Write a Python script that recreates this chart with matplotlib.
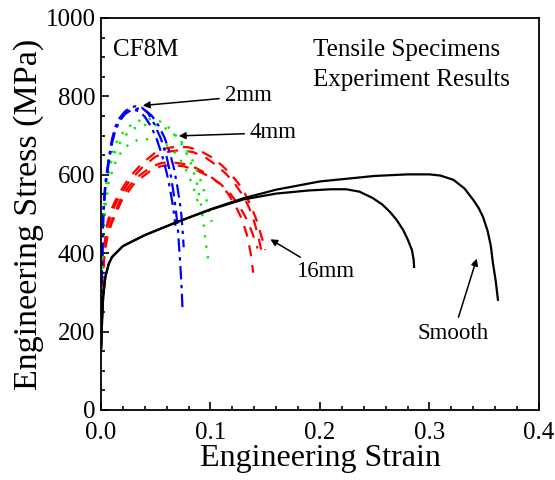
import numpy as np
import matplotlib.pyplot as plt
from matplotlib.ticker import MultipleLocator

plt.rcParams['font.family'] = ['Liberation Serif', 'DejaVu Serif']

# smooth specimens (black solid)
smooth_long_x = [0.0, 0.001, 0.002, 0.004, 0.007, 0.01, 0.02, 0.04, 0.07, 0.10, 0.13, 0.16, 0.20, 0.25, 0.28, 0.30, 0.31,
                 0.322, 0.332, 0.340, 0.345, 0.349, 0.353, 0.356, 0.358, 0.3605, 0.3626]
smooth_long_y = [150, 230, 290, 340, 372, 390, 418, 446, 480, 512, 540, 562, 583, 597, 601, 601, 598,
                 587, 565, 536, 515, 492, 458, 420, 375, 330, 281]
smooth_short_x = [0.0, 0.001, 0.002, 0.004, 0.007, 0.01, 0.02, 0.04, 0.07, 0.10, 0.13, 0.16, 0.19, 0.21, 0.224, 0.236,
                  0.248, 0.257, 0.264, 0.270, 0.276, 0.280, 0.284, 0.2855, 0.286]
smooth_short_y = [150, 230, 290, 340, 372, 390, 418, 446, 480, 511, 537, 552, 560, 563, 563, 557,
                  541, 524, 505, 485, 459, 436, 408, 385, 365]

# 16mm notched (red dashed)
r1_x = [0.0, 0.001, 0.003, 0.006, 0.01, 0.015, 0.025, 0.037, 0.049, 0.060, 0.070, 0.080, 0.090, 0.101, 0.110, 0.118,
        0.125, 0.131, 0.137, 0.142, 0.146, 0.149, 0.150]
r1_y = [160, 300, 420, 480, 515, 545, 590, 628, 655, 668, 672, 670, 662, 645, 625, 603,
        580, 555, 520, 485, 448, 420, 408]
r2_x = [0.0, 0.001, 0.003, 0.006, 0.01, 0.015, 0.025, 0.037, 0.049, 0.060, 0.072, 0.084, 0.095, 0.105, 0.114, 0.122,
        0.129, 0.135, 0.140, 0.144, 0.147]
r2_y = [160, 300, 415, 470, 505, 535, 580, 617, 645, 658, 663, 658, 645, 625, 603, 578,
        550, 518, 480, 440, 398]
r3_x = [0.0, 0.001, 0.003, 0.006, 0.01, 0.019, 0.031, 0.046, 0.055, 0.064, 0.075, 0.087, 0.098, 0.108, 0.116, 0.123,
        0.129, 0.134, 0.137, 0.139]
r3_y = [160, 290, 400, 450, 485, 545, 590, 620, 630, 632, 628, 617, 600, 578, 552, 520,
        485, 440, 395, 350]
r4_x = [0.0, 0.001, 0.003, 0.006, 0.01, 0.019, 0.031, 0.046, 0.055, 0.064, 0.075, 0.087, 0.098, 0.109, 0.118, 0.126,
        0.132, 0.137, 0.141, 0.143]
r4_y = [160, 285, 395, 445, 478, 535, 580, 612, 622, 625, 622, 612, 597, 577, 552, 522,
        492, 460, 430, 412]

# 4mm notched (green dotted)
g1_x = [0.0, 0.001, 0.002, 0.004, 0.007, 0.010, 0.015, 0.022, 0.030, 0.038, 0.046, 0.054, 0.062, 0.070, 0.076, 0.082,
        0.087, 0.091, 0.094, 0.096, 0.098]
g1_y = [170, 330, 470, 560, 620, 655, 688, 715, 733, 741, 742, 736, 720, 695, 668, 630,
        585, 530, 470, 420, 383]
g2_x = [0.0, 0.001, 0.002, 0.004, 0.007, 0.010, 0.015, 0.022, 0.030, 0.040, 0.050, 0.058, 0.066, 0.074, 0.081, 0.087,
        0.092, 0.096, 0.099, 0.101]
g2_y = [170, 320, 455, 545, 605, 640, 672, 700, 718, 727, 727, 720, 705, 682, 652, 615,
        578, 540, 505, 480]
g3_x = [0.0, 0.001, 0.002, 0.004, 0.007, 0.012, 0.018, 0.025, 0.033, 0.040, 0.048, 0.056, 0.063, 0.070, 0.076, 0.081,
        0.085, 0.088, 0.090]
g3_y = [170, 310, 430, 520, 580, 625, 656, 677, 688, 691, 690, 683, 670, 650, 622, 592,
        562, 535, 515]

# 2mm notched (blue dash-dot)
b1_x = [0.0, 0.001, 0.002, 0.004, 0.007, 0.010, 0.013, 0.017, 0.022, 0.027, 0.032, 0.037, 0.043, 0.049, 0.055, 0.060,
        0.064, 0.067, 0.070, 0.072, 0.0735, 0.0745]
b1_y = [180, 380, 500, 580, 640, 690, 722, 745, 762, 772, 775, 772, 757, 728, 690, 645,
        595, 540, 470, 390, 320, 255]
b2_x = [0.0, 0.001, 0.002, 0.004, 0.007, 0.010, 0.013, 0.017, 0.022, 0.028, 0.034, 0.040, 0.046, 0.052, 0.058, 0.063,
        0.067, 0.070, 0.073, 0.0745, 0.0755]
b2_y = [180, 370, 490, 570, 630, 680, 712, 737, 755, 766, 769, 765, 752, 728, 695, 655,
        612, 565, 510, 460, 415]
b3_x = [0.0, 0.001, 0.002, 0.004, 0.007, 0.010, 0.013, 0.017, 0.022, 0.026, 0.030, 0.035, 0.040, 0.046, 0.051, 0.056,
        0.060, 0.063, 0.066, 0.068]
b3_y = [180, 375, 495, 575, 635, 685, 717, 742, 758, 764, 766, 762, 748, 722, 690, 648,
        605, 565, 515, 470]

fig = plt.figure(figsize=(5.55, 4.8), dpi=100)
ax = fig.add_axes([0.182, 0.146, 0.789, 0.8165])

for xs, ys in [(r1_x, r1_y), (r2_x, r2_y), (r3_x, r3_y), (r4_x, r4_y)]:
    ax.plot(xs, ys, color='red', ls=(0, (5, 4)), lw=1.6)
for xs, ys in [(g1_x, g1_y), (g2_x, g2_y), (g3_x, g3_y)]:
    ax.plot(xs, ys, color='#00ee00', ls=(0, (1, 3.5)), lw=1.7)
for xs, ys in [(b1_x, b1_y), (b2_x, b2_y), (b3_x, b3_y)]:
    ax.plot(xs, ys, color='blue', ls=(0, (6, 2.5, 1.5, 2.5)), lw=1.6)
ax.plot(smooth_long_x, smooth_long_y, color='black', lw=1.6)
ax.plot(smooth_short_x, smooth_short_y, color='black', lw=1.6)

ax.set_xlim(0, 0.4)
ax.set_ylim(0, 1000)
ax.xaxis.set_major_locator(MultipleLocator(0.1))
ax.xaxis.set_minor_locator(MultipleLocator(0.02))
ax.yaxis.set_major_locator(MultipleLocator(200))
ax.yaxis.set_minor_locator(MultipleLocator(50))
ax.xaxis.set_major_formatter(plt.FormatStrFormatter('%.1f'))
ax.tick_params(which='both', direction='in', labelsize=18, width=1.2)
ax.tick_params(which='major', length=6)
ax.tick_params(which='minor', length=3)
ax.tick_params(axis='x', pad=8.5)
ax.tick_params(axis='y', pad=4)
for s in ax.spines.values():
    s.set_linewidth(1.3)

ax.set_xlabel('Engineering Strain', fontsize=23, labelpad=0)
ax.set_ylabel('Engineering Stress (MPa)', fontsize=24.5, labelpad=1)

ax.text(0.011, 918, 'CF8M', fontsize=18, va='center')
ax.text(0.194, 918, 'Tensile Specimens', fontsize=18, ha='left', va='center')
ax.text(0.194, 842, 'Experiment Results', fontsize=18, ha='left', va='center')

arrow = dict(arrowstyle='-|>', color='black', lw=1.1, mutation_scale=10)
ax.annotate('2mm', xy=(0.0356, 776), xytext=(0.113, 801), fontsize=16.5, va='center', arrowprops=arrow)
ax.annotate('4mm', xy=(0.0685, 699), xytext=(0.136, 707), fontsize=16.5, va='center', arrowprops=arrow)
ax.annotate('16mm', xy=(0.1525, 439), xytext=(0.178, 352), fontsize=16.5, va='center', arrowprops=arrow)
ax.annotate('Smooth', xy=(0.344, 393), xytext=(0.322, 196), fontsize=16.5, ha='center', va='center',
            arrowprops=arrow)

fig.savefig('out.png', dpi=100)
